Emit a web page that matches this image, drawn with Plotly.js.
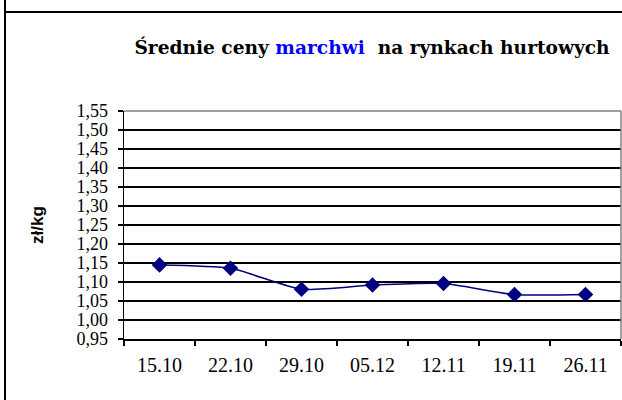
<!DOCTYPE html>
<html>
<head>
<meta charset="utf-8">
<script src="https://cdn.plot.ly/plotly-3.0.1.min.js"></script>
<style>
  html, body { margin: 0; padding: 0; background: #fff; }
  #chart { width: 622px; height: 400px; }
</style>
</head>
<body>
<div id="chart"></div>
<script>
const dates = ['15.10', '22.10', '29.10', '05.12', '12.11', '19.11', '26.11'];
const prices = [1.145, 1.136, 1.081, 1.092, 1.096, 1.067, 1.067];
const yTicks = [0.95, 1.00, 1.05, 1.10, 1.15, 1.20, 1.25, 1.30, 1.35, 1.40, 1.45, 1.50, 1.55];

const L = 124, R = 1, T = 111, B = 61, W = 622, H = 400;
const pw = W - L - R, ph = H - T - B;
const px = v => (v - L) / pw;
const py = v => 1 - (v - T) / ph;

const serif = '"Liberation Serif", "Times New Roman", serif';
const titleSerif = '"DejaVu Serif", "Liberation Serif", serif';
const sans = '"Liberation Sans", Arial, sans-serif';

const trace = {
  x: dates,
  y: prices,
  type: 'scatter',
  mode: 'lines+markers',
  line: { color: '#000080', width: 1.5, shape: 'spline', smoothing: 0.6 },
  marker: { symbol: 'diamond', size: 12, color: '#000080' },
  hoverinfo: 'x+y'
};

const layout = {
  width: W, height: H,
  margin: { l: L, r: R, t: T, b: B },
  paper_bgcolor: '#fff',
  plot_bgcolor: '#fff',
  showlegend: false,
  separators: ', ',
  title: {
    text: 'Średnie ceny <span style="color:#0000ff">marchwi</span>  na rynkach hurtowych',
    font: { family: titleSerif, size: 18.6, color: '#000', weight: 'bold' },
    x: px(372), xref: 'paper', xanchor: 'center',
    y: 1 - 47 / H, yref: 'container', yanchor: 'middle'
  },
  xaxis: {
    type: 'category',
    range: [-0.5, dates.length - 0.5],
    tickson: 'boundaries',
    ticks: 'outside', ticklen: 5, tickcolor: '#000', tickwidth: 1.5,
    showline: true, linecolor: '#000', linewidth: 1.5,
    showgrid: false, zeroline: false,
    ticklabelstandoff: 7,
    tickfont: { family: serif, size: 20, color: '#000' }
  },
  yaxis: {
    range: [0.95, 1.55],
    tickvals: yTicks,
    tickformat: '.2f',
    ticks: 'outside', ticklen: 5, tickcolor: '#000', tickwidth: 1.5,
    showline: true, linecolor: '#000', linewidth: 1.5,
    showgrid: true, gridcolor: '#000', gridwidth: 1.5,
    zeroline: false,
    ticklabelstandoff: 6,
    tickfont: { family: serif, size: 18, color: '#000' },
    title: {
      text: 'zł/kg',
      font: { family: sans, size: 17, color: '#000', weight: 'bold' },
      standoff: 28
    }
  },
  shapes: [
    { type: 'line', xref: 'paper', yref: 'paper', x0: 0, x1: 1, y0: 1, y1: 1, line: { color: '#808080', width: 1.5 } },
    { type: 'line', xref: 'paper', yref: 'paper', x0: 1, x1: 1, y0: 0, y1: 1, line: { color: '#808080', width: 1.5 } },
    { type: 'line', xref: 'paper', yref: 'paper', x0: px(5), x1: px(5), y0: py(0), y1: py(400), line: { color: '#000', width: 2 } },
    { type: 'line', xref: 'paper', yref: 'paper', x0: px(5), x1: px(622), y0: py(12), y1: py(12), line: { color: '#000', width: 2 } }
  ]
};

Plotly.newPlot('chart', [trace], layout, { displayModeBar: false, staticPlot: true });
</script>
</body>
</html>
